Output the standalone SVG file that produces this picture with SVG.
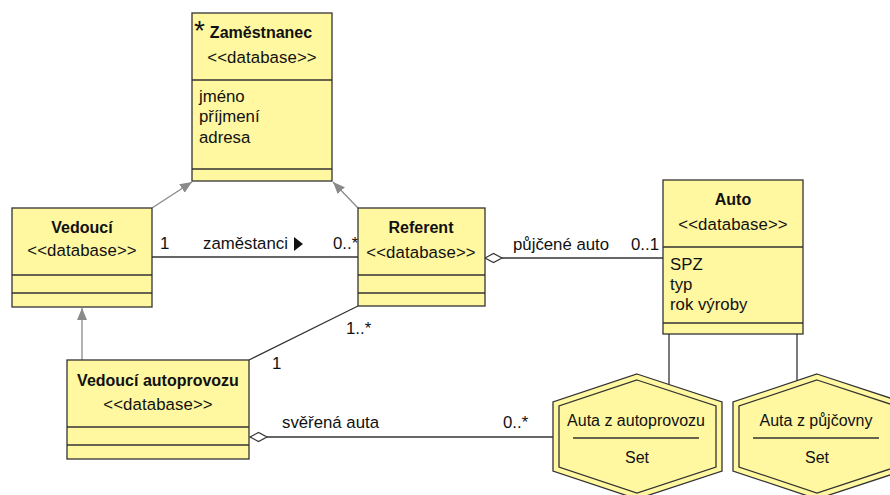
<svg xmlns="http://www.w3.org/2000/svg" width="890" height="495" viewBox="0 0 890 495">
<style>
.box{fill:#fff8a0;stroke:#333;stroke-width:1.3}
.sep{stroke:#333;stroke-width:1.3}
.t{font-family:"Liberation Sans",Arial,sans-serif;font-size:16.8px;fill:#111}
.b{font-weight:bold;font-size:16px}
.m{text-anchor:middle}
.s16{font-size:16px}
.st{letter-spacing:0.1px}
.assoc{stroke:#333;stroke-width:1.3;fill:none}
.gen{stroke:#8a8a8a;stroke-width:1.3;fill:none;marker-end:url(#tri)}
.dia{fill:#fff;stroke:#333;stroke-width:1.2}
.hex{fill:#fff8a0;stroke:#333;stroke-width:1.3}
</style>
<defs>
<marker id="tri" viewBox="0 0 12 10" refX="12" refY="5" markerWidth="12" markerHeight="10" markerUnits="userSpaceOnUse" orient="auto">
<path d="M0,0 L12,5 L0,10 z" fill="#8a8a8a"/>
</marker>
</defs>
<rect width="890" height="495" fill="#fff"/>

<g id="connectors">
<!-- generalizations -->
<line class="gen" x1="152" y1="208" x2="192" y2="182"/>
<line class="gen" x1="358" y1="208" x2="333" y2="182"/>
<line class="gen" x1="82" y1="360" x2="82" y2="308"/>
<!-- zaměstanci -->
<line class="assoc" x1="152" y1="257" x2="358" y2="257"/>
<text class="t" x="160" y="249">1</text>
<text class="t" x="203" y="249">zaměstanci</text>
<polygon points="294,237 294,251 303,244" fill="#111"/>
<text class="t" x="333" y="249">0..*</text>
<!-- půjčené auto -->
<line class="assoc" x1="502" y1="258" x2="663" y2="258"/>
<polygon class="dia" points="485,258 493.5,253.5 502,258 493.5,262.5"/>
<text class="t" x="513" y="250">půjčené auto</text>
<text class="t" x="631" y="250">0..1</text>
<!-- Vedoucí autoprovozu – Referent -->
<line class="assoc" x1="249" y1="360" x2="358" y2="306"/>
<text class="t" x="272" y="369">1</text>
<text class="t" x="346" y="334">1..*</text>
<!-- svěřená auta -->
<line class="assoc" x1="267" y1="437" x2="559" y2="437"/>
<polygon class="dia" points="250,437 258.5,432.5 267,437 258.5,441.5"/>
<text class="t" x="282" y="428">svěřená auta</text>
<text class="t" x="503" y="428">0..*</text>
<!-- Auto – sets -->
<line class="assoc" x1="669" y1="334" x2="669" y2="391"/>
<line class="assoc" x1="797" y1="334" x2="797" y2="387"/>
</g>

<g id="zamestnanec">
<rect class="box" x="192" y="13" width="140" height="168"/>
<line class="sep" x1="192" y1="80" x2="332" y2="80"/>
<line class="sep" x1="192" y1="169" x2="332" y2="169"/>
<text class="t" x="194" y="40" style="font-size:28px">*</text>
<text class="t b m" x="261" y="38">Zaměstnanec</text>
<text class="t m st" x="262" y="63">&lt;&lt;database&gt;&gt;</text>
<text class="t" x="199" y="102">jméno</text>
<text class="t" x="199" y="122">příjmení</text>
<text class="t" x="199" y="143">adresa</text>
</g>

<g id="vedouci">
<rect class="box" x="12" y="208" width="140" height="99"/>
<line class="sep" x1="12" y1="275" x2="152" y2="275"/>
<line class="sep" x1="12" y1="293" x2="152" y2="293"/>
<text class="t b m" x="82" y="233">Vedoucí</text>
<text class="t m st" x="82" y="256">&lt;&lt;database&gt;&gt;</text>
</g>

<g id="referent">
<rect class="box" x="358" y="208" width="127" height="98"/>
<line class="sep" x1="358" y1="275" x2="485" y2="275"/>
<line class="sep" x1="358" y1="293" x2="485" y2="293"/>
<text class="t b m" x="421" y="233">Referent</text>
<text class="t m st" x="421" y="258">&lt;&lt;database&gt;&gt;</text>
</g>

<g id="auto">
<rect class="box" x="663" y="180" width="140" height="154"/>
<line class="sep" x1="663" y1="247" x2="803" y2="247"/>
<line class="sep" x1="663" y1="323" x2="803" y2="323"/>
<text class="t b m" x="733" y="205">Auto</text>
<text class="t m st" x="733" y="230">&lt;&lt;database&gt;&gt;</text>
<text class="t" x="670" y="270">SPZ</text>
<text class="t" x="670" y="290">typ</text>
<text class="t" x="670" y="310">rok výroby</text>
</g>

<g id="vedouci-autoprovozu">
<rect class="box" x="67" y="360" width="182" height="99"/>
<line class="sep" x1="67" y1="427" x2="249" y2="427"/>
<line class="sep" x1="67" y1="445" x2="249" y2="445"/>
<text class="t b m" x="158" y="386">Vedoucí autoprovozu</text>
<text class="t m st" x="158" y="410">&lt;&lt;database&gt;&gt;</text>
</g>

<g id="auta-z-autoprovozu">
<polygon class="hex" points="637,374 722,402 722,471 637,499 553,471 553,402"/>
<polygon class="hex" points="637,380 716,406 716,467 637,493 559,467 559,406"/>
<text class="t m s16" x="636" y="426">Auta z autoprovozu</text>
<line class="sep" x1="573" y1="438" x2="699" y2="438"/>
<text class="t m s16" x="637" y="463">Set</text>
</g>

<g id="auta-z-pujcovny">
<polygon class="hex" points="817,374 902,402 902,471 817,499 733,471 733,402"/>
<polygon class="hex" points="817,380 896,406 896,467 817,493 739,467 739,406"/>
<text class="t m s16" x="816" y="426">Auta z půjčovny</text>
<line class="sep" x1="753" y1="438" x2="879" y2="438"/>
<text class="t m s16" x="817" y="463">Set</text>
</g>
</svg>
